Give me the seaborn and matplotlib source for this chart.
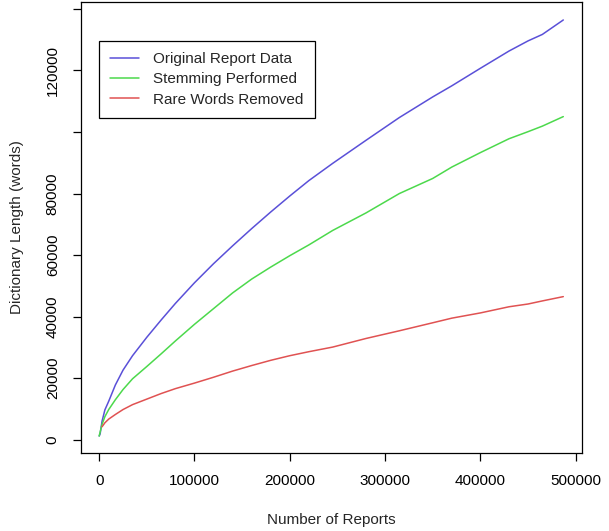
import pandas as pd
import matplotlib
matplotlib.use("Agg")
import matplotlib.pyplot as plt
import seaborn as sns

# values
reports = [0, 1000, 3000, 6000, 10000, 17000, 25000, 35000, 50000, 65000,
           80000, 100000, 120000, 140000, 160000, 180000, 200000, 220000,
           245000, 280000, 315000, 350000, 370000, 400000, 430000, 450000,
           465000, 487000]
original = [1200, 1900, 6000, 9700, 12500, 17800, 22600, 27300, 33300, 38900,
            44300, 51000, 57200, 63000, 68600, 74000, 79200, 84200,
            89800, 97300, 104700, 111400, 115000, 120700, 126300, 129600,
            131700, 136400]
stemmed = [1200, 2500, 5000, 7500, 9800, 13000, 16300, 19800, 23800, 27900,
           32100, 37500, 42600, 47700, 52200, 56100, 59800, 63300,
           68000, 73700, 80000, 84900, 88600, 93300, 97800, 100100,
           101900, 105000]
rare_reports = reports[2:]
rare_removed = [4200, 5500, 6700, 8200, 9800, 11400, 13200, 15000,
                16600, 18400, 20300, 22300, 24100, 25800, 27300, 28600,
                30100, 32900, 35400, 38000, 39500, 41200, 43200, 44100,
                45100, 46500]

series_names = ["Original Report Data", "Stemming Performed", "Rare Words Removed"]
colors = {"Original Report Data": "#5a50d8",
          "Stemming Performed": "#4cd94c",
          "Rare Words Removed": "#e05252"}

df = pd.concat([
    pd.DataFrame({"reports": reports, "words": original, "series": series_names[0]}),
    pd.DataFrame({"reports": reports, "words": stemmed, "series": series_names[1]}),
    pd.DataFrame({"reports": rare_reports, "words": rare_removed, "series": series_names[2]}),
])

sns.set_style("ticks")
plt.rcParams["font.family"] = ["Liberation Sans", "DejaVu Sans"]
plt.rcParams["font.size"] = 11

fig = plt.figure(figsize=(6.09, 5.31), dpi=100)
ax = fig.add_axes([0.1325, 0.147, 0.8225, 0.849])

sns.lineplot(data=df, x="reports", y="words", hue="series", hue_order=series_names,
             palette=colors, estimator=None, linewidth=1.1, ax=ax)

ax.set_xlim(-19400, 506200)
ax.set_ylim(-4300, 142200)

xt = [0, 100000, 200000, 300000, 400000, 500000]
ax.set_xticks(xt)
ax.set_xticklabels([str(v) for v in xt])
yt = [0, 20000, 40000, 60000, 80000, 100000, 120000, 140000]
# R drops the labels that would overlap
ylabels = [str(v) if v not in (100000, 140000) else "" for v in yt]
ax.set_yticks(yt)
ax.set_yticklabels(ylabels, rotation=90, va="center")

for s in ax.spines.values():
    s.set_visible(True)
    s.set_color("black")
    s.set_linewidth(0.9)
ax.tick_params(direction="out", length=6, width=0.9, colors="black",
               labelsize=11, pad=9)

ax.set_xlabel("Number of Reports", fontsize=11, labelpad=18)
ax.set_ylabel("Dictionary Length (words)", fontsize=11, labelpad=16)

leg = ax.legend(loc="upper left", bbox_to_anchor=(0.0365, 0.914), borderaxespad=0,
                frameon=True, fancybox=False, framealpha=1, edgecolor="black",
                fontsize=11, handlelength=1.9, handletextpad=0.9,
                borderpad=0.75, labelspacing=0.4, title=None)
leg.get_frame().set_linewidth(0.9)

fig.savefig("out.png", dpi=100)
